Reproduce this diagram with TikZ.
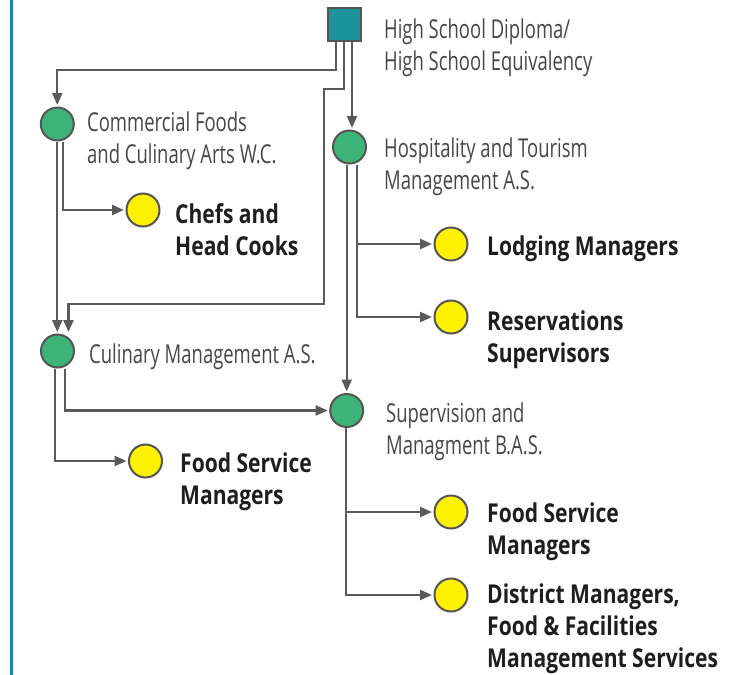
\documentclass[tikz,border=0pt]{standalone}
\usepackage{fontspec}
\usetikzlibrary{arrows.meta}
\newfontfamily\labfont[FakeStretch=0.71]{Open Sans}
\newfontfamily\jobfont[FakeStretch=0.81]{Open Sans}
\definecolor{edgegray}{HTML}{5A5A5A}
\definecolor{rimgray}{HTML}{555555}
\definecolor{degreegreen}{HTML}{3DB377}
\definecolor{jobyellow}{HTML}{FFF200}
\definecolor{startteal}{HTML}{1B939B}
\definecolor{sidebar}{HTML}{1A86A6}
\definecolor{labgray}{HTML}{464646}
\definecolor{jobink}{HTML}{1E1E1E}
\tikzset{
  startbox/.style={draw=rimgray, line width=2pt, fill=startteal, minimum size=33pt, inner sep=0pt},
  degree/.style={circle, draw=rimgray, line width=2pt, fill=degreegreen, minimum size=33pt, inner sep=0pt},
  job/.style={circle, draw=rimgray, line width=2pt, fill=jobyellow, minimum size=33pt, inner sep=0pt},
  lab/.style={anchor=west, inner sep=0pt, align=left, text=labgray, font=\labfont\fontsize{26}{32}\selectfont},
  jobtext/.style={anchor=west, inner sep=0pt, align=left, text=jobink, font=\jobfont\bfseries\fontsize{26}{32}\selectfont},
  link/.style={draw=edgegray, line width=2.3pt},
  arr/.style={link, -{Triangle[length=12pt,width=10pt]}, shorten >=1.5pt},
}
\begin{document}
\begin{tikzpicture}[x=1pt, y=-1pt]
\useasboundingbox (0,0) rectangle (740,675);
% side rule
\draw[sidebar, line width=3pt] (11.5,0) -- (11.5,675);

% bend points of the long route
\coordinate (jogA) at (324,89);
\coordinate (jogB) at (324,304);

% nodes
\node[startbox] (sq) at (344.5,24.5) {};
\node[degree] (cf) at (57.3,124) {};
\node[degree] (ht) at (349.5,147) {};
\node[degree] (cm) at (57.5,351) {};
\node[degree] (sm) at (346.7,410.5) {};
\node[job] (chefs) at (143,210) {};
\node[job] (fsmA) at (145.5,461) {};
\node[job] (lodg) at (451,244) {};
\node[job] (resv) at (451,317) {};
\node[job] (fsmB) at (451,512) {};
\node[job] (dist) at (451,595) {};

% labels
\node[lab] (sqlab) at (384,48) {High School Diploma/\\High School Equivalency};
\node[lab] (cflab) at (87,141) {Commercial Foods\\and Culinary Arts W.C.};
\node[lab] (htlab) at (384,167) {Hospitality and Tourism\\Management A.S.};
\node[lab] (cmlab) at (89,357) {Culinary Management A.S.};
\node[lab] (smlab) at (386,432) {Supervision and\\Managment B.A.S.};
\node[jobtext] (chefslab) at (175,230) {Chefs and\\Head Cooks};
\node[jobtext] (lodglab) at (487,249) {Lodging Managers};
\node[jobtext] (resvlab) at (487,340) {Reservations\\Supervisors};
\node[jobtext] (fsmAlab) at (180,482) {Food Service\\Managers};
\node[jobtext] (fsmBlab) at (487,532) {Food Service\\Managers};
\node[jobtext] (distlab) at (487,629) {District Managers,\\Food \& Facilities\\Management Services};

% routes from the diploma
\draw[arr] ([xshift=-8.5pt]sq.south) -- ++(0,28) -| (cf.north);
\draw[arr] ([xshift=-0.5pt]sq.south) |- (jogA) -- (jogB) -| ([xshift=11pt]cm.north);
\draw[arr] ([xshift=7.5pt]sq.south) -- ([xshift=7.5pt]sq.south |- ht.north);

% routes between programs and careers
\draw[arr] ([xshift=6pt]cf.south) |- (chefs.west);
\draw[arr] (cf.south) -- (cf.south |- cm.north);
\draw[arr] (ht.south -| sm.north) -- (sm.north);
\draw[arr] ([xshift=7.2pt]ht.south) |- (lodg.west);
\draw[arr] ([xshift=7.2pt]ht.south) |- (resv.west);
\draw[arr] ([xshift=7.5pt]cm.south) |- (sm.west);
\draw[arr] ([xshift=-2.5pt]cm.south) |- (fsmA.west);
\draw[arr] ([xshift=-1pt]sm.south) |- (fsmB.west);
\draw[arr] ([xshift=-1pt]sm.south) |- (dist.west);
\end{tikzpicture}
\end{document}
